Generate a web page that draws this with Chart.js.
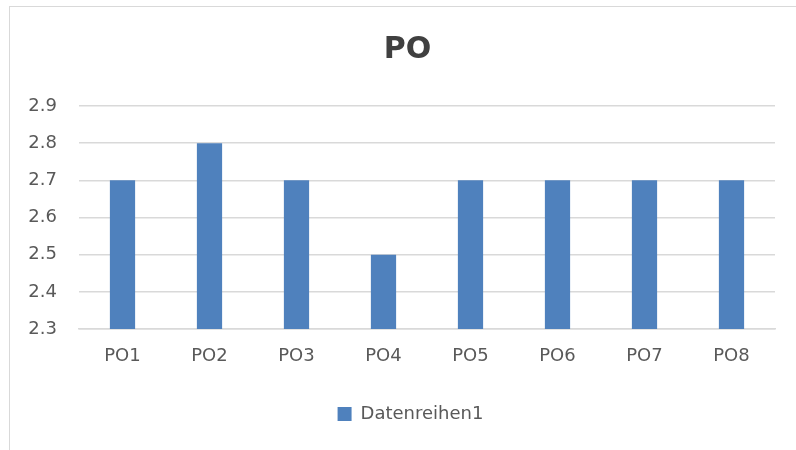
<!DOCTYPE html>
<html>
<head>
<meta charset="utf-8">
<script src="https://cdn.jsdelivr.net/npm/chart.js@4.4.0/dist/chart.umd.min.js"></script>
<style>
  html, body { margin: 0; padding: 0; background: #fff; overflow: hidden; }
  #rahmen {
    position: absolute; left: 9px; top: 6px; width: 820px; height: 480px;
    border: 1.5px solid #d9d9d9; box-sizing: border-box;
  }
  #wrap { position: absolute; left: 0; top: 0; width: 796px; height: 450px; }
</style>
</head>
<body>
<div id="rahmen"></div>
<div id="wrap"><canvas id="graficoPO"></canvas></div>
<script>
const kategorien = ['PO1', 'PO2', 'PO3', 'PO4', 'PO5', 'PO6', 'PO7', 'PO8'];
const werte = [2.7, 2.8, 2.7, 2.5, 2.7, 2.7, 2.7, 2.7];
const serienName = 'Datenreihen1';
const yMin = 2.3, yMax = 2.9, yStep = 0.1;

const schrift = '"DejaVu Sans", "Noto Sans", sans-serif';
const ctx = document.getElementById('graficoPO').getContext('2d');

// Titel und Legende etwas nach rechts, wie im Original
const verschieben = {
  id: 'verschieben',
  afterLayout(chart) {
    chart.titleBlock.left += 10; chart.titleBlock.right += 10;
    chart.legend.left += 13; chart.legend.right += 13;
  }
};

window.chartPO = new Chart(ctx, {
  type: 'bar',
  data: {
    labels: kategorien,
    datasets: [{
      label: serienName,
      data: werte,
      backgroundColor: '#4f81bd',
      borderWidth: 0,
      barPercentage: 0.58,
      categoryPercentage: 0.5
    }]
  },
  options: {
    responsive: true,
    maintainAspectRatio: false,
    animation: false,
    layout: { padding: { left: 20, right: 21, top: 0, bottom: 17 } },
    plugins: {
      title: {
        display: true,
        text: 'PO',
        color: '#404040',
        font: { family: schrift, size: 30, weight: 'bold' },
        padding: { top: 32, bottom: 38 }
      },
      legend: {
        position: 'bottom',
        labels: {
          color: '#595959',
          font: { family: schrift, size: 18 },
          boxWidth: 14,
          boxHeight: 14,
          padding: 10
        }
      },
      tooltip: { enabled: false }
    },
    scales: {
      x: {
        grid: { display: false },
        border: { color: '#d9d9d9', width: 1.5 },
        ticks: { color: '#595959', font: { family: schrift, size: 18 }, padding: 9 },
        afterFit: s => { s.height = 66; }
      },
      y: {
        min: yMin,
        max: yMax,
        grid: { color: '#d9d9d9', lineWidth: 1.5, drawTicks: false },
        border: { display: false },
        ticks: {
          stepSize: yStep,
          color: '#595959',
          font: { family: schrift, size: 18 },
          padding: 22,
          callback: v => Number(v).toFixed(1)
        },
        afterFit: s => { s.width = 59; }
      }
    }
  },
  plugins: [verschieben]
});
</script>
</body>
</html>
